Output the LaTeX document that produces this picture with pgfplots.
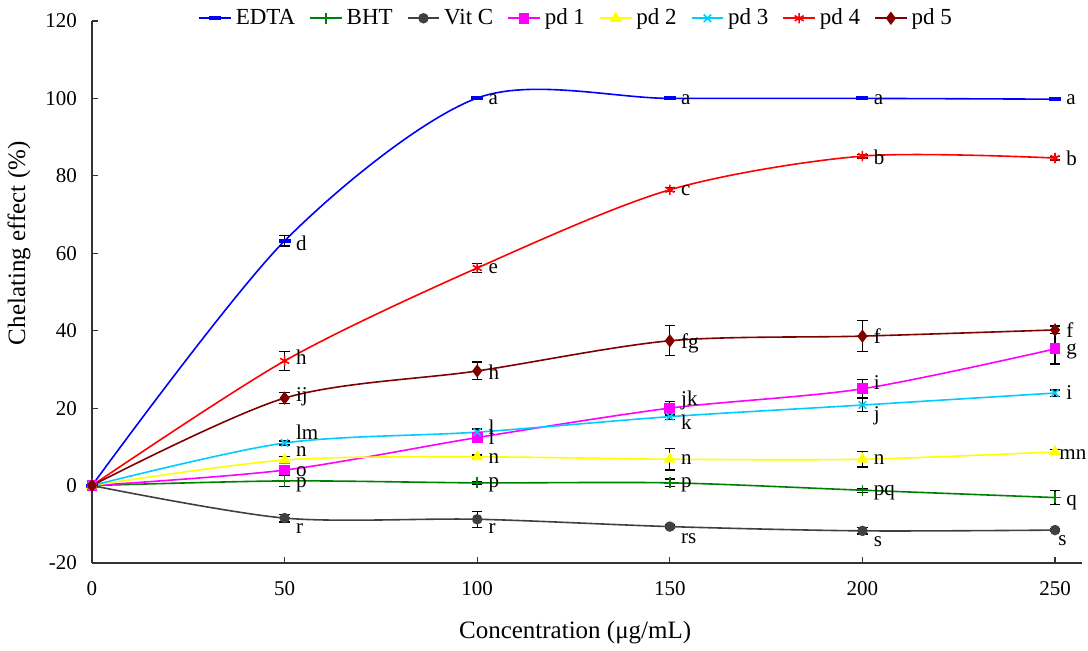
\documentclass[border=0pt]{standalone}
\usepackage{fontspec}
\setmainfont{Liberation Serif}
\usepackage{pgfplots}
\pgfplotsset{compat=1.18}

\definecolor{cEDTA}{HTML}{0000FF}
\definecolor{cBHT}{HTML}{008000}
\definecolor{cVitC}{HTML}{404040}
\definecolor{cpdA}{HTML}{FF00FF}
\definecolor{cpdB}{HTML}{FFFF00}
\definecolor{cpdC}{HTML}{00CCFF}
\definecolor{cpdD}{HTML}{FF0000}
\definecolor{cpdE}{HTML}{800000}

\pgfplotsset{
  errs/.style={
    error bars/.cd, y dir=both, y explicit,
    error bar style={black, line width=0.6pt},
    error mark options={rotate=90, mark size=2.6pt, black, line width=0.6pt},
  },
  ser/.style={smooth, tension=0.5, line width=0.8pt, mark options={solid}},
}
\tikzset{lab/.style={font=\fontsize{10.5}{12}\selectfont, anchor=west, inner sep=0pt, xshift=5.5pt}}

\begin{document}
\begin{tikzpicture}
\useasboundingbox (-46pt,-44pt) rectangle (498pt,281.5pt);
\begin{axis}[
  scale only axis,
  width=495pt, height=271pt,
  xmin=0, xmax=257, ymin=-20, ymax=120,
  axis lines=left,
  axis line style={black!80, line width=0.6pt, -},
  tick align=inside,
  major tick length=3pt,
  tick style={black!80, line width=0.6pt},
  xtick={0,50,...,250},
  ytick={-20,0,...,120},
  /pgf/number format/assume math mode=true,
  ticklabel style={font=\fontsize{10.5}{12}\selectfont},
  xticklabel style={yshift=-5.5pt},
  yticklabel style={xshift=-4pt},
  xlabel={Concentration (μg/mL)},
  ylabel={Chelating effect (\%)},
  label style={font=\fontsize{12.5}{14}\selectfont},
  xlabel style={at={(axis description cs:0.488,-0.095)}, anchor=north},
  ylabel style={at={(axis description cs:-0.055,0.59)}, anchor=south},
  legend columns=-1,
  legend style={draw=none, fill=none, at={(axis description cs:0.49,1.005)}, anchor=center,
    font=\fontsize{11.5}{13}\selectfont, /tikz/every even column/.append style={column sep=5pt}},
  legend image code/.code={\draw[mark repeat=2, mark phase=2] plot coordinates {(0cm,0cm)(0.28cm,0cm)(0.56cm,0cm)};},
  clip=false,
]
\addplot[ser, cEDTA, mark=-, mark size=3pt, mark options={line width=2pt}, errs] table[x=x, y=y, y error=e] {
x y e
0 0 0
50 63.2 1.3
100 100.1 0.3
150 100.0 0.3
200 100.0 0.3
250 99.8 0.2
};
\addlegendentry{EDTA}
\addplot[ser, cBHT, mark=+, mark size=2.8pt, errs] table[x=x, y=y, y error=e] {
x y e
0 0 0
50 1.2 1.4
100 0.7 0.3
150 0.7 1.0
200 -1.2 0.5
250 -3.1 1.8
};
\addlegendentry{BHT}
\addplot[ser, cVitC, mark=*, mark size=2.2pt, errs] table[x=x, y=y, y error=e] {
x y e
0 0 0
50 -8.4 1.0
100 -8.7 2.1
150 -10.6 0.4
200 -11.7 0.8
250 -11.5 0.4
};
\addlegendentry{Vit C}
\addplot[ser, cpdA, mark=square*, mark size=2.3pt, errs] table[x=x, y=y, y error=e] {
x y e
0 0 0
50 4.0 0.5
100 12.4 1.0
150 20.0 1.8
200 25.0 2.3
250 35.3 3.9
};
\addlegendentry{pd 1}
\addplot[ser, cpdB, mark=triangle*, mark size=2.7pt, errs] table[x=x, y=y, y error=e] {
x y e
0 0 0
50 6.6 1.0
100 7.4 0.5
150 6.8 2.8
200 6.8 2.0
250 8.7 0.6
};
\addlegendentry{pd 2}
\addplot[ser, cpdC, mark=x, mark size=2.6pt, errs] table[x=x, y=y, y error=e] {
x y e
0 0 0
50 11.0 0.5
100 13.8 0.8
150 17.8 0.8
200 20.8 1.7
250 23.9 0.8
};
\addlegendentry{pd 3}
\addplot[ser, cpdD, mark=asterisk, mark size=2.6pt, errs] table[x=x, y=y, y error=e] {
x y e
0 0 0
50 32.2 2.5
100 56.2 1.2
150 76.4 0.5
200 85.1 0.5
250 84.6 0.5
};
\addlegendentry{pd 4}
\addplot[ser, cpdE, mark=diamond*, mark size=2.7pt, errs] table[x=x, y=y, y error=e] {
x y e
0 0 0
50 22.6 1.4
100 29.6 2.3
150 37.4 3.9
200 38.6 4.0
250 40.2 1.0
};
\addlegendentry{pd 5}

% significance letters
\node[lab] at (axis cs:50,62.6) {d};
\node[lab] at (axis cs:100,99.6) {a};
\node[lab] at (axis cs:150,99.8) {a};
\node[lab] at (axis cs:200,99.8) {a};
\node[lab] at (axis cs:250,99.6) {a};
\node[lab] at (axis cs:50,33.2) {h};
\node[lab] at (axis cs:100,56.0) {e};
\node[lab] at (axis cs:150,76.1) {c};
\node[lab] at (axis cs:200,84.9) {b};
\node[lab] at (axis cs:250,84.6) {b};
\node[lab] at (axis cs:50,22.9) {ij};
\node[lab] at (axis cs:100,29.3) {h};
\node[lab] at (axis cs:150,36.8) {fg};
\node[lab] at (axis cs:200,38.6) {f};
\node[lab] at (axis cs:250,40.2) {f};
\node[lab] at (axis cs:50,13.8) {lm};
\node[lab] at (axis cs:100,15.1) {l};
\node[lab] at (axis cs:150,16.4) {k};
\node[lab] at (axis cs:200,18.1) {j};
\node[lab] at (axis cs:250,23.9) {i};
\node[lab] at (axis cs:50,3.7) {o};
\node[lab] at (axis cs:100,12.4) {l};
\node[lab] at (axis cs:150,22.1) {jk};
\node[lab] at (axis cs:200,26.7) {i};
\node[lab] at (axis cs:250,34.7) {g};
\node[lab] at (axis cs:50,8.7) {n};
\node[lab] at (axis cs:100,7.1) {n};
\node[lab] at (axis cs:150,6.8) {n};
\node[lab] at (axis cs:200,6.8) {n};
\node[lab, xshift=-3.5pt] at (axis cs:250,8.1) {mn};
\node[lab] at (axis cs:50,0.1) {p};
\node[lab] at (axis cs:100,0.1) {p};
\node[lab] at (axis cs:150,0.1) {p};
\node[lab] at (axis cs:200,-1.9) {pq};
\node[lab] at (axis cs:250,-4.3) {q};
\node[lab] at (axis cs:50,-11.0) {r};
\node[lab] at (axis cs:100,-11.2) {r};
\node[lab] at (axis cs:150,-13.8) {rs};
\node[lab] at (axis cs:200,-14.6) {s};
\node[lab, xshift=-4pt] at (axis cs:250,-14.3) {s};
\end{axis}
\end{tikzpicture}
\end{document}
